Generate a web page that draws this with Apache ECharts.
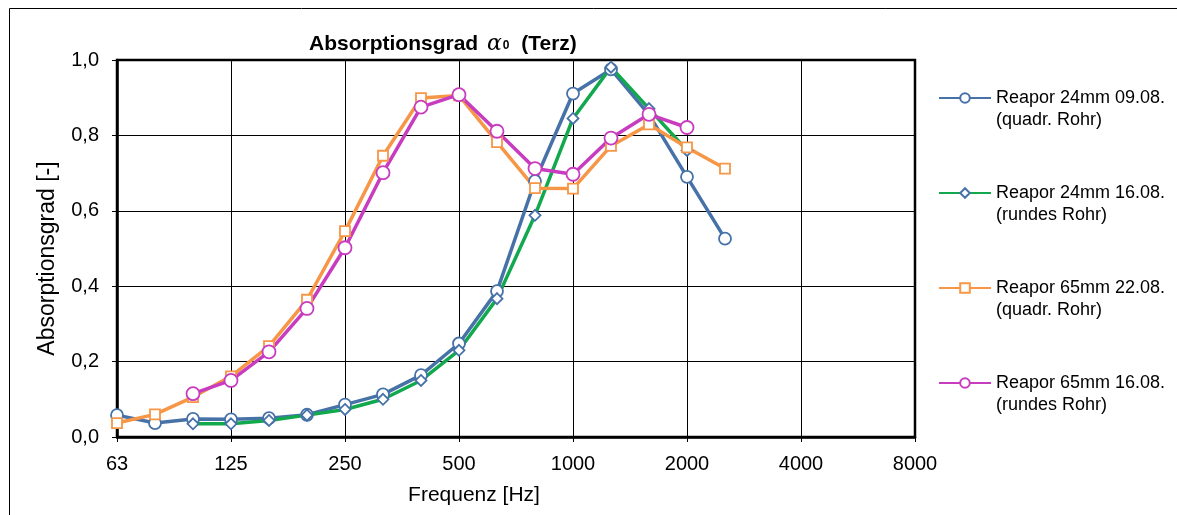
<!DOCTYPE html>
<html>
<head>
<meta charset="utf-8">
<script src="https://cdn.jsdelivr.net/npm/echarts@6/dist/echarts.min.js"></script>
<style>
  html, body { margin: 0; padding: 0; background: #fff; }
  #chart { width: 1177px; height: 515px; }
</style>
</head>
<body>
<div id="chart"></div>
<script>
// Third-octave centre frequencies [Hz]
const frequencies = ['63', '80', '100', '125', '160', '200', '250', '315', '400', '500', '630',
  '800', '1000', '1250', '1600', '2000', '2500', '3150', '4000', '5000', '6300', '8000'];

// Absorption coefficient per band (null = not measured)
const reapor24_0908 = [0.058, 0.037, 0.048, 0.047, 0.050, 0.059, 0.086, 0.113, 0.164, 0.248, 0.387,
  0.679, 0.911, 0.975, 0.855, 0.690, 0.526];
const reapor24_1608 = [null, null, 0.035, 0.035, 0.044, 0.058, 0.073, 0.100, 0.150, 0.230, 0.367,
  0.588, 0.845, 0.981, 0.871, 0.760];
const reapor65_2208 = [0.037, 0.060, 0.106, 0.161, 0.241, 0.364, 0.546, 0.746, 0.899, 0.906, 0.782,
  0.660, 0.659, 0.772, 0.829, 0.768, 0.712];
const reapor65_1608 = [null, null, 0.115, 0.150, 0.226, 0.341, 0.502, 0.701, 0.875, 0.908, 0.811,
  0.712, 0.697, 0.793, 0.856, 0.821];

const seriesNames = [
  'Reapor 24mm 09.08.\n(quadr. Rohr)',
  'Reapor 24mm 16.08.\n(rundes Rohr)',
  'Reapor 65mm 22.08.\n(quadr. Rohr)',
  'Reapor 65mm 16.08.\n(rundes Rohr)'
];

const FONT = '"Liberation Sans", Arial, sans-serif';
const BLUE = '#4672A8';
const GREEN = '#12A84E';
const ORANGE = '#F79646';
const MAGENTA = '#C83CC0';

function lineSeries(name, data, color, symbol, size, markerColor) {
  return {
    name: name,
    type: 'line',
    data: data,
    symbol: symbol,
    symbolSize: size,
    showAllSymbol: true,
    lineStyle: { color: color, width: 3.5 },
    itemStyle: { color: '#fff', borderColor: markerColor || color, borderWidth: 1.8 },
    emphasis: { disabled: true },
    animation: false
  };
}

const chart = echarts.init(document.getElementById('chart'), null, { renderer: 'canvas' });
chart.setOption({
  backgroundColor: '#fff',
  animation: false,
  title: {
    text: 'Absorptionsgrad {a|α}{s|0}  (Terz)',
    left: 304,
    top: 28,
    textStyle: {
      fontFamily: FONT,
      fontSize: 21,
      fontWeight: 'bold',
      color: '#000',
      rich: {
        a: { fontFamily: '"DejaVu Serif", "Liberation Serif", serif', fontStyle: 'italic', fontWeight: 'normal', fontSize: 22, color: '#000', padding: [0, 1, 0, 3] },
        s: { fontFamily: FONT, fontSize: 12, fontWeight: 'bold', color: '#000', padding: [4, 0, 0, 0] }
      }
    }
  },
  graphic: [{
    type: 'rect',
    shape: { x: 9.5, y: 8.5, width: 1200, height: 600 },
    style: { fill: 'none', stroke: '#000', lineWidth: 1 },
    silent: true
  }],
  grid: {
    left: 117, top: 60, right: 262, bottom: 78,
    show: true, borderColor: '#000', borderWidth: 2.5, backgroundColor: 'transparent'
  },
  legend: {
    orient: 'vertical',
    left: 938,
    top: 65,
    padding: 0,
    itemGap: 29,
    itemWidth: 52,
    itemHeight: 12,
    data: seriesNames,
    // leading empty line keeps the first text line level with the icon
    formatter: name => '\n' + name,
    textStyle: {
      fontFamily: FONT, fontSize: 18, color: '#000',
      lineHeight: 22, padding: [0, 0, 0, 0]
    }
  },
  xAxis: {
    type: 'category',
    data: frequencies,
    boundaryGap: false,
    name: 'Frequenz [Hz]',
    nameLocation: 'middle',
    nameGap: 48,
    nameTextStyle: { fontFamily: FONT, fontSize: 21, color: '#000', padding: [0, 84, 0, 0] },
    axisLine: { lineStyle: { color: '#000', width: 2.5 } },
    axisTick: { interval: 2, length: 5, lineStyle: { color: '#000', width: 1 } },
    axisLabel: { interval: 2, fontFamily: FONT, fontSize: 20, color: '#000', margin: 17 },
    splitLine: { show: true, interval: 2, lineStyle: { color: '#000', width: 1 } }
  },
  yAxis: {
    type: 'value',
    min: 0, max: 1, interval: 0.2,
    name: 'Absorptionsgrad [-]',
    nameLocation: 'middle',
    nameGap: 58,
    nameTextStyle: { fontFamily: FONT, fontSize: 23, color: '#000', padding: [0, 20, 0, 0] },
    axisLine: { show: true, lineStyle: { color: '#000', width: 2.5 } },
    axisTick: { show: true, length: 5, lineStyle: { color: '#000', width: 1 } },
    axisLabel: {
      fontFamily: FONT, fontSize: 20, color: '#000', margin: 18,
      formatter: v => v.toFixed(1).replace('.', ',')
    },
    splitLine: { show: true, lineStyle: { color: '#000', width: 1 } }
  },
  series: [
    lineSeries(seriesNames[0], reapor24_0908, BLUE, 'circle', 12),
    lineSeries(seriesNames[1], reapor24_1608, GREEN, 'diamond', 11, BLUE),
    lineSeries(seriesNames[2], reapor65_2208, ORANGE, 'rect', 10),
    lineSeries(seriesNames[3], reapor65_1608, MAGENTA, 'circle', 13)
  ]
});
</script>
</body>
</html>
